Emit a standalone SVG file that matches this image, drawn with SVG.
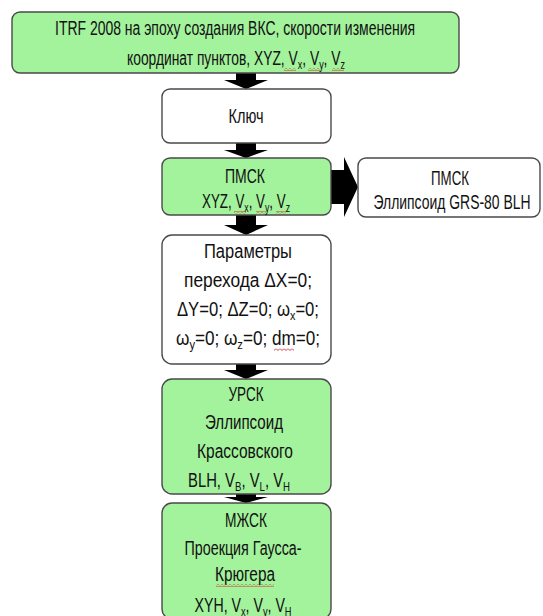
<svg xmlns="http://www.w3.org/2000/svg" width="543" height="616" viewBox="0 0 543 616">
<style>
.g{fill:#a3f29c;stroke:#4a4a4a;stroke-width:1.4}
.w{fill:#ffffff;stroke:#4a4a4a;stroke-width:1.4}
text{font-family:"Liberation Sans",Arial,sans-serif;font-size:20px;fill:#111;text-anchor:middle}
.s{font-size:13px}
.ar{fill:#000}
.ul{stroke:#333;stroke-width:1}
</style>
<defs>
<pattern id="sq" width="4" height="3" patternUnits="userSpaceOnUse">
<path d="M0,0.5 L2,2.5 L4,0.5" fill="none" stroke="#d02020" stroke-width="0.9"/>
</pattern>
</defs>
<rect width="543" height="616" fill="#fff"/>
<g id="connectors">
<path class="ar" d="M236,73 H256 V80 H268 L246,89 L224,80 H236 Z"/>
<path class="ar" d="M236,143 H256 V150 H268 L246,158 L224,150 H236 Z"/>
<path class="ar" d="M236,215 H256 V225 H268 L246,235 L224,225 H236 Z"/>
<path class="ar" d="M236,364 H256 V370 H268 L246,379 L224,370 H236 Z"/>
<path class="ar" d="M236,494 H256 V497 H268 L246,503 L224,497 H236 Z"/>
<path class="ar" d="M331,170 H344 V157 L358,187 L344,217 V204 H331 Z"/>
</g>
<g id="itrf">
<rect class="g" x="12" y="12" width="447" height="61" rx="8"/>
<text x="235" y="35" textLength="360" lengthAdjust="spacingAndGlyphs">ITRF 2008 на эпоху создания ВКС, скорости изменения</text>
<text x="236" y="65" textLength="218" lengthAdjust="spacingAndGlyphs">координат пунктов, XYZ, V<tspan class="s" dy="4">x</tspan><tspan dy="-4">, V</tspan><tspan class="s" dy="4">y</tspan><tspan dy="-4">, V</tspan><tspan class="s" dy="4">z</tspan></text>
<rect x="284" y="68" width="12" height="3" fill="url(#sq)"/>
<rect x="308" y="68" width="12" height="3" fill="url(#sq)"/>
<rect x="332" y="68" width="12" height="3" fill="url(#sq)"/>
</g>
<g id="key">
<rect class="w" x="162" y="89" width="169" height="54" rx="8"/>
<text x="246" y="123" textLength="35" lengthAdjust="spacingAndGlyphs">Ключ</text>
</g>
<g id="pmsk">
<rect class="g" x="162" y="158" width="169" height="57" rx="8"/>
<text x="245" y="183" textLength="40" lengthAdjust="spacingAndGlyphs">ПМСК</text>
<text x="246" y="208" textLength="88" lengthAdjust="spacingAndGlyphs">XYZ, V<tspan class="s" dy="4">x</tspan><tspan dy="-4">, V</tspan><tspan class="s" dy="4">y</tspan><tspan dy="-4">, V</tspan><tspan class="s" dy="4">z</tspan></text>
<rect x="234" y="211" width="12" height="3" fill="url(#sq)"/>
<rect x="256" y="211" width="10" height="3" fill="url(#sq)"/>
<rect x="276" y="211" width="10" height="3" fill="url(#sq)"/>
</g>
<g id="pmsk-grs">
<rect class="w" x="358" y="158" width="182" height="59" rx="8"/>
<text x="450" y="185" textLength="38" lengthAdjust="spacingAndGlyphs">ПМСК</text>
<text x="452" y="209" textLength="157" lengthAdjust="spacingAndGlyphs">Эллипсоид GRS-80 BLH</text>
</g>
<g id="params">
<rect class="w" x="162" y="235" width="169" height="129" rx="10"/>
<text x="248" y="258" textLength="88" lengthAdjust="spacingAndGlyphs">Параметры</text>
<text x="248" y="287" textLength="128" lengthAdjust="spacingAndGlyphs">перехода ΔX=0;</text>
<text x="248" y="316" textLength="142" lengthAdjust="spacingAndGlyphs">ΔY=0; ΔZ=0; ω<tspan class="s" dy="4">x</tspan><tspan dy="-4">=0;</tspan></text>
<text x="248" y="345" textLength="144" lengthAdjust="spacingAndGlyphs">ω<tspan class="s" dy="4">y</tspan><tspan dy="-4">=0; ω</tspan><tspan class="s" dy="4">z</tspan><tspan dy="-4">=0; dm=0;</tspan></text>
<rect x="274" y="348" width="20" height="3" fill="url(#sq)"/>
</g>
<g id="ursk">
<rect class="g" x="162" y="379" width="169" height="115" rx="10"/>
<text x="246" y="401" textLength="35" lengthAdjust="spacingAndGlyphs">УРСК</text>
<text x="244" y="429" textLength="78" lengthAdjust="spacingAndGlyphs">Эллипсоид</text>
<text x="245" y="458" textLength="96" lengthAdjust="spacingAndGlyphs">Крассовского</text>
<text x="239" y="487" textLength="102" lengthAdjust="spacingAndGlyphs">BLH, V<tspan class="s" dy="4">B</tspan><tspan dy="-4">, V</tspan><tspan class="s" dy="4">L</tspan><tspan dy="-4">, V</tspan><tspan class="s" dy="4">H</tspan></text>
</g>
<g id="mzhsk">
<rect class="g" x="162" y="503" width="169" height="116" rx="10"/>
<text x="246" y="527" textLength="42" lengthAdjust="spacingAndGlyphs">МЖСК</text>
<text x="243" y="555" textLength="117" lengthAdjust="spacingAndGlyphs">Проекция Гаусса-</text>
<text x="245" y="581" textLength="60" lengthAdjust="spacingAndGlyphs">Крюгера</text>
<rect x="216" y="584" width="58" height="3" fill="url(#sq)"/>
<text x="243" y="612" textLength="97" lengthAdjust="spacingAndGlyphs">XYH, V<tspan class="s" dy="4">x</tspan><tspan dy="-4">, V</tspan><tspan class="s" dy="4">y</tspan><tspan dy="-4">, V</tspan><tspan class="s" dy="4">H</tspan></text>
</g>
</svg>
